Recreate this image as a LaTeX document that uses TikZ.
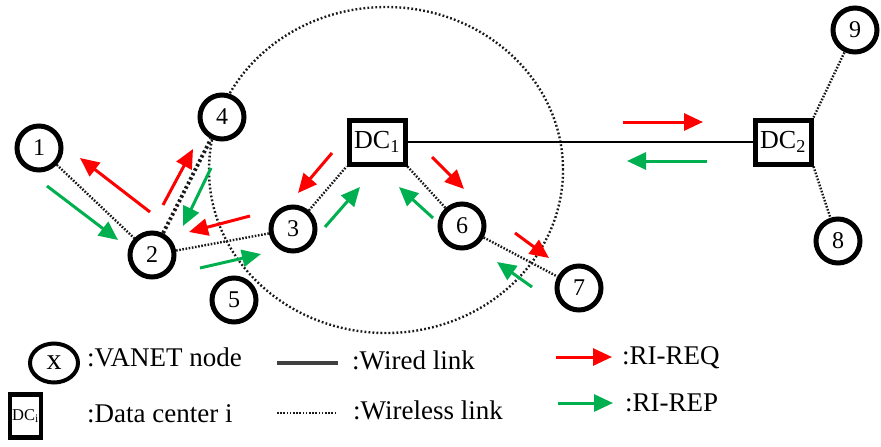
\documentclass[tikz,border=0pt]{standalone}
\usepackage{fontspec}
\setmainfont{Liberation Serif}
\usetikzlibrary{arrows.meta,shapes.geometric}
\definecolor{reqred}{RGB}{255,0,0}
\definecolor{repgreen}{RGB}{0,176,80}
\begin{document}
\begin{tikzpicture}[x=1pt,y=-1pt,
  vnode/.style={circle,draw=black,fill=white,line width=5pt,minimum size=44pt,inner sep=0pt,font=\fontsize{24}{24}\selectfont},
  dcnode/.style={rectangle,draw=black,fill=white,line width=5pt,minimum width=56pt,minimum height=44pt,inner sep=0pt,font=\fontsize{26}{26}\selectfont},
  wless/.style={line width=2.4pt,dash pattern=on 1.6pt off 1.6pt,black!90},
  wlessthick/.style={line width=3.8pt,dash pattern=on 2.5pt off 2.5pt,black!90},
  wired/.style={line width=2pt,black},
  req/.style={reqred,line width=3pt,-{Triangle[length=19pt,width=17pt]}},
  rep/.style={repgreen,line width=3pt,-{Triangle[length=19pt,width=17pt]}},
  legtext/.style={anchor=base west,inner sep=0pt,font=\fontsize{27}{27}\selectfont}
]
\useasboundingbox (0,0) rectangle (881,447);
\fill[white] (0,0) rectangle (881,447);

% range ellipse
\draw[line width=2.4pt,dash pattern=on 1.8pt off 2.2pt,black!90] (386,170) ellipse [x radius=177pt, y radius=163pt];

% nodes
\node[vnode] (n1) at (39,148) {1};
\node[vnode] (n2) at (152,255) {2};
\node[vnode] (n3) at (293,229) {3};
\node[vnode] (n4) at (222,117) {4};
\node[vnode] (n5) at (234,300) {5};
\node[vnode] (n6) at (462,226) {6};
\node[vnode] (n7) at (579,288) {7};
\node[vnode] (n8) at (838,241) {8};
\node[vnode] (n9) at (855,30) {9};
\node[dcnode] (dc1) at (377,142) {DC\textsubscript{1}};
\node[dcnode] (dc2) at (783,142) {DC\textsubscript{2}};

% links
\draw[wless] (n1) -- (n2);
\draw[wlessthick] (n2) -- (n4);
\draw[wless] (n2) -- (n3);
\draw[wless] (n3) -- (dc1.south west);
\draw[wless] (dc1.south east) -- (n6);
\draw[wless] (n6) -- (n7);
\draw[wired] (dc1) -- (dc2);
\draw[wless] (dc2.north east) -- (n9);
\draw[wless] (dc2.south east) -- (n8);

% request / reply arrow end points
\coordinate (r1a) at (150,212); \coordinate (r1b) at (80,158);
\coordinate (r2a) at (163,205); \coordinate (r2b) at (193,149);
\coordinate (r3a) at (250,216); \coordinate (r3b) at (189,232);
\coordinate (r4a) at (332,153); \coordinate (r4b) at (298,193);
\coordinate (r5a) at (432,157); \coordinate (r5b) at (464,189);
\coordinate (r6a) at (515,233); \coordinate (r6b) at (549,258);
\coordinate (r7a) at (623,122); \coordinate (r7b) at (703,122);
\coordinate (g1a) at (47,186);  \coordinate (g1b) at (118,240);
\coordinate (g2a) at (211,168); \coordinate (g2b) at (183,226);
\coordinate (g3a) at (200,268); \coordinate (g3b) at (261,254);
\coordinate (g4a) at (325,227); \coordinate (g4b) at (360,187);
\coordinate (g5a) at (433,218); \coordinate (g5b) at (399,187);
\coordinate (g6a) at (532,287); \coordinate (g6b) at (497,262);
\coordinate (g7a) at (707,161); \coordinate (g7b) at (627,161);

\foreach \i in {1,...,7} {\draw[req] (r\i a) -- (r\i b);}
\foreach \i in {1,...,7} {\draw[rep] (g\i a) -- (g\i b);}

% legend
\node[ellipse,draw=black,fill=white,line width=4pt,minimum width=48pt,minimum height=39pt,inner sep=0pt,font=\fontsize{30}{30}\selectfont] (legv) at (54,363) {x};
\node[legtext] (legvt) at (87,366) {:VANET node};
\node[rectangle,draw=black,fill=white,line width=4.5pt,minimum width=31pt,minimum height=43pt,inner sep=0pt,font=\fontsize{16.5}{16.5}\selectfont] (legdc) at (25.5,416) {DC\textsubscript{i}};
\node[legtext] (legdct) at (87,422) {:Data center i};

\coordinate (lwa) at (277,363); \coordinate (lwb) at (338,363);
\draw[line width=4pt,black!75] (lwa) -- (lwb);
\node[legtext] (legwt) at (352,369) {:Wired link};
\coordinate (lsa) at (277,413); \coordinate (lsb) at (337,413);
\draw[wless] (lsa) -- (lsb);
\node[legtext] (legst) at (353,419) {:Wireless link};

\coordinate (lra) at (556,357); \coordinate (lrb) at (612,357);
\draw[req] (lra) -- (lrb);
\node[legtext] (legrt) at (622,364) {:RI-REQ};
\coordinate (lga) at (558,403); \coordinate (lgb) at (613,403);
\draw[rep] (lga) -- (lgb);
\node[legtext] (leggt) at (625,411) {:RI-REP};
\end{tikzpicture}
\end{document}
